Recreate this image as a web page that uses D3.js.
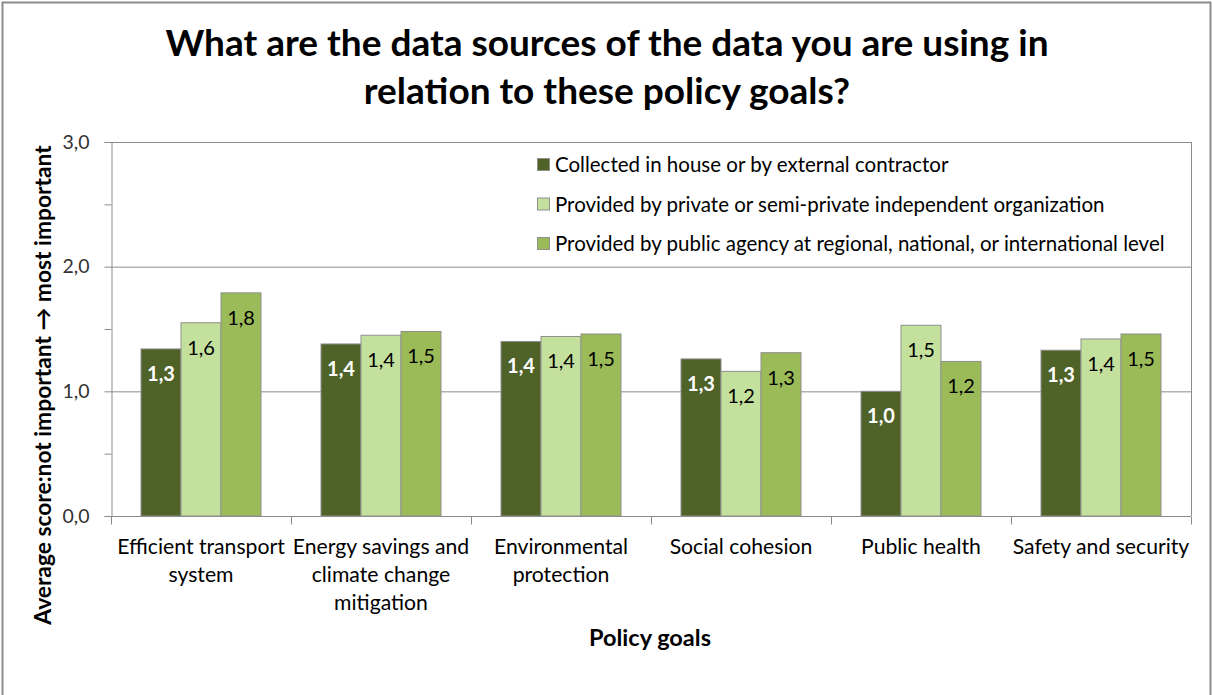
<!DOCTYPE html>
<html>
<head>
<meta charset="utf-8">
<script src="https://cdn.jsdelivr.net/npm/d3@7"></script>
<style>
  html, body { margin: 0; padding: 0; background: #fff; }
  svg { display: block; font-family: Lato, "Open Sans", sans-serif; }
</style>
</head>
<body>
<svg id="chart" width="1212" height="695"></svg>
<script>
const titleLines = ["What are the data sources of the data you are using in", "relation to these policy goals?"];
const categories = [
  ["Efficient transport", "system"],
  ["Energy savings and", "climate change", "mitigation"],
  ["Environmental", "protection"],
  ["Social cohesion"],
  ["Public health"],
  ["Safety and security"]
];
const seriesNames = [
  "Collected in house or by external contractor",
  "Provided by private or semi-private independent organization",
  "Provided by public agency at regional, national, or international level"
];
const seriesColors = ["#4F6228", "#C3E19D", "#9BBB59"];
const collected = [1.34, 1.38, 1.40, 1.26, 1.00, 1.33];
const privateOrg = [1.55, 1.45, 1.44, 1.16, 1.53, 1.42];
const publicAgency = [1.79, 1.48, 1.46, 1.31, 1.24, 1.46];
const seriesValues = [collected, privateOrg, publicAgency];
const yTickValues = [0, 0.5, 1, 1.5, 2, 2.5, 3];
const yLabelValues = [0, 1, 2, 3];
const yAxisTitle = "Average score:not important \u2192 most important";
const xAxisTitle = "Policy goals";

(function () {
const svg = d3.select("#chart");
const pLeft = 111, pRight = 1191, pTop = 142, pBottom = 516;
const catIdx = d3.range(categories.length);
const fmt = v => d3.format(".1f")(v).replace(".", ",");

// outer border
svg.append("rect").attr("x", 2.5).attr("y", 2.5).attr("width", 1208).attr("height", 700)
  .attr("fill", "#fff").attr("stroke", "#8c8c8c").attr("stroke-width", 2);

// title
const title = svg.append("text").attr("text-anchor", "middle").attr("font-weight", "bold")
  .attr("font-size", 37).attr("fill", "#000");
titleLines.forEach((t, i) => title.append("tspan").attr("x", 607).attr("y", 56 + i * 48).text(t));

const x0 = d3.scaleBand().domain(catIdx).range([pLeft, pRight]).paddingInner(1/3).paddingOuter(1/6);
const x1 = d3.scaleBand().domain(d3.range(seriesNames.length)).range([0, x0.bandwidth()]);
const y = d3.scaleLinear().domain([0, 3]).range([pBottom, pTop]);

// gridlines
svg.append("g").selectAll("line").data(yLabelValues.filter(v => v > 0)).join("line")
  .attr("x1", pLeft).attr("x2", pRight).attr("y1", d => y(d) + 0.5).attr("y2", d => y(d) + 0.5)
  .attr("stroke", "#8c8c8c").attr("stroke-width", 1);
// plot right border
svg.append("line").attr("x1", pRight + 0.5).attr("x2", pRight + 0.5).attr("y1", pTop).attr("y2", pBottom)
  .attr("stroke", "#8c8c8c");

// y axis
const yAxis = svg.append("g").attr("transform", `translate(${pLeft + 0.5},0)`)
  .call(d3.axisLeft(y).tickValues(yTickValues).tickSize(7).tickFormat(d => yLabelValues.includes(d) ? fmt(d) : ""));
yAxis.select(".domain").attr("stroke", "#8c8c8c");
yAxis.selectAll(".tick line").attr("stroke", "#8c8c8c");
yAxis.selectAll(".tick text").attr("font-size", 19.5).attr("fill", "#333").attr("x", -22)
  .attr("font-family", "Lato, sans-serif");

// x axis
const xAxis = svg.append("g").attr("transform", `translate(0,${pBottom + 0.5})`);
xAxis.append("line").attr("x1", pLeft).attr("x2", pRight).attr("stroke", "#8c8c8c");
xAxis.selectAll("line.tk").data(d3.range(categories.length + 1)).join("line").attr("class", "tk")
  .attr("x1", d => Math.round(pLeft + d * x0.step()) + 0.5).attr("x2", d => Math.round(pLeft + d * x0.step()) + 0.5)
  .attr("y1", 0).attr("y2", 8).attr("stroke", "#8c8c8c");
const xLabels = xAxis.selectAll("text").data(catIdx).join("text")
  .attr("text-anchor", "middle").attr("font-size", 21.2).attr("fill", "#000");
xLabels.each(function(d) {
  const cx = x0(d) + x0.bandwidth() / 2;
  categories[d].forEach((line, i) => d3.select(this).append("tspan").attr("x", cx).attr("y", 37 + i * 28).text(line));
});

// bars
const groups = svg.append("g").selectAll("g").data(catIdx).join("g")
  .attr("transform", d => `translate(${x0(d)},0)`);
groups.selectAll("rect").data(c => seriesValues.map((s, si) => ({si, v: s[c]}))).join("rect")
  .attr("x", d => x1(d.si)).attr("width", x1.bandwidth())
  .attr("y", d => y(d.v)).attr("height", d => pBottom - y(d.v))
  .attr("fill", d => seriesColors[d.si]).attr("stroke", "#8f8f8f").attr("stroke-width", 1);
groups.selectAll("text").data(c => seriesValues.map((s, si) => ({si, v: s[c]}))).join("text")
  .attr("x", d => x1(d.si) + x1.bandwidth() / 2).attr("y", d => y(d.v) + 32)
  .attr("text-anchor", "middle").attr("font-size", 20)
  .attr("font-weight", d => d.si === 0 ? "bold" : "normal")
  .attr("fill", d => d.si === 0 ? "#fff" : "#000")
  .text(d => fmt(d.v));

// legend
const legend = svg.append("g").selectAll("g").data(seriesNames).join("g")
  .attr("transform", (d, i) => `translate(537,${165 + i * 39.5})`);
legend.append("rect").attr("x", 0.5).attr("y", -6.5).attr("width", 12).attr("height", 12)
  .attr("fill", (d, i) => seriesColors[i]).attr("stroke", "#8f8f8f");
legend.append("text").attr("x", 18).attr("y", 7).attr("font-size", 20.5).attr("fill", "#000").text(d => d);

// axis titles
svg.append("text").attr("transform", "translate(51,385) rotate(-90)").attr("text-anchor", "middle")
  .attr("font-weight", "bold").attr("font-size", 22.8).attr("fill", "#000").text(yAxisTitle);
svg.append("text").attr("x", 650).attr("y", 646).attr("text-anchor", "middle")
  .attr("font-weight", "bold").attr("font-size", 23.5).attr("fill", "#000").text(xAxisTitle);
})();
</script>
</body>
</html>
